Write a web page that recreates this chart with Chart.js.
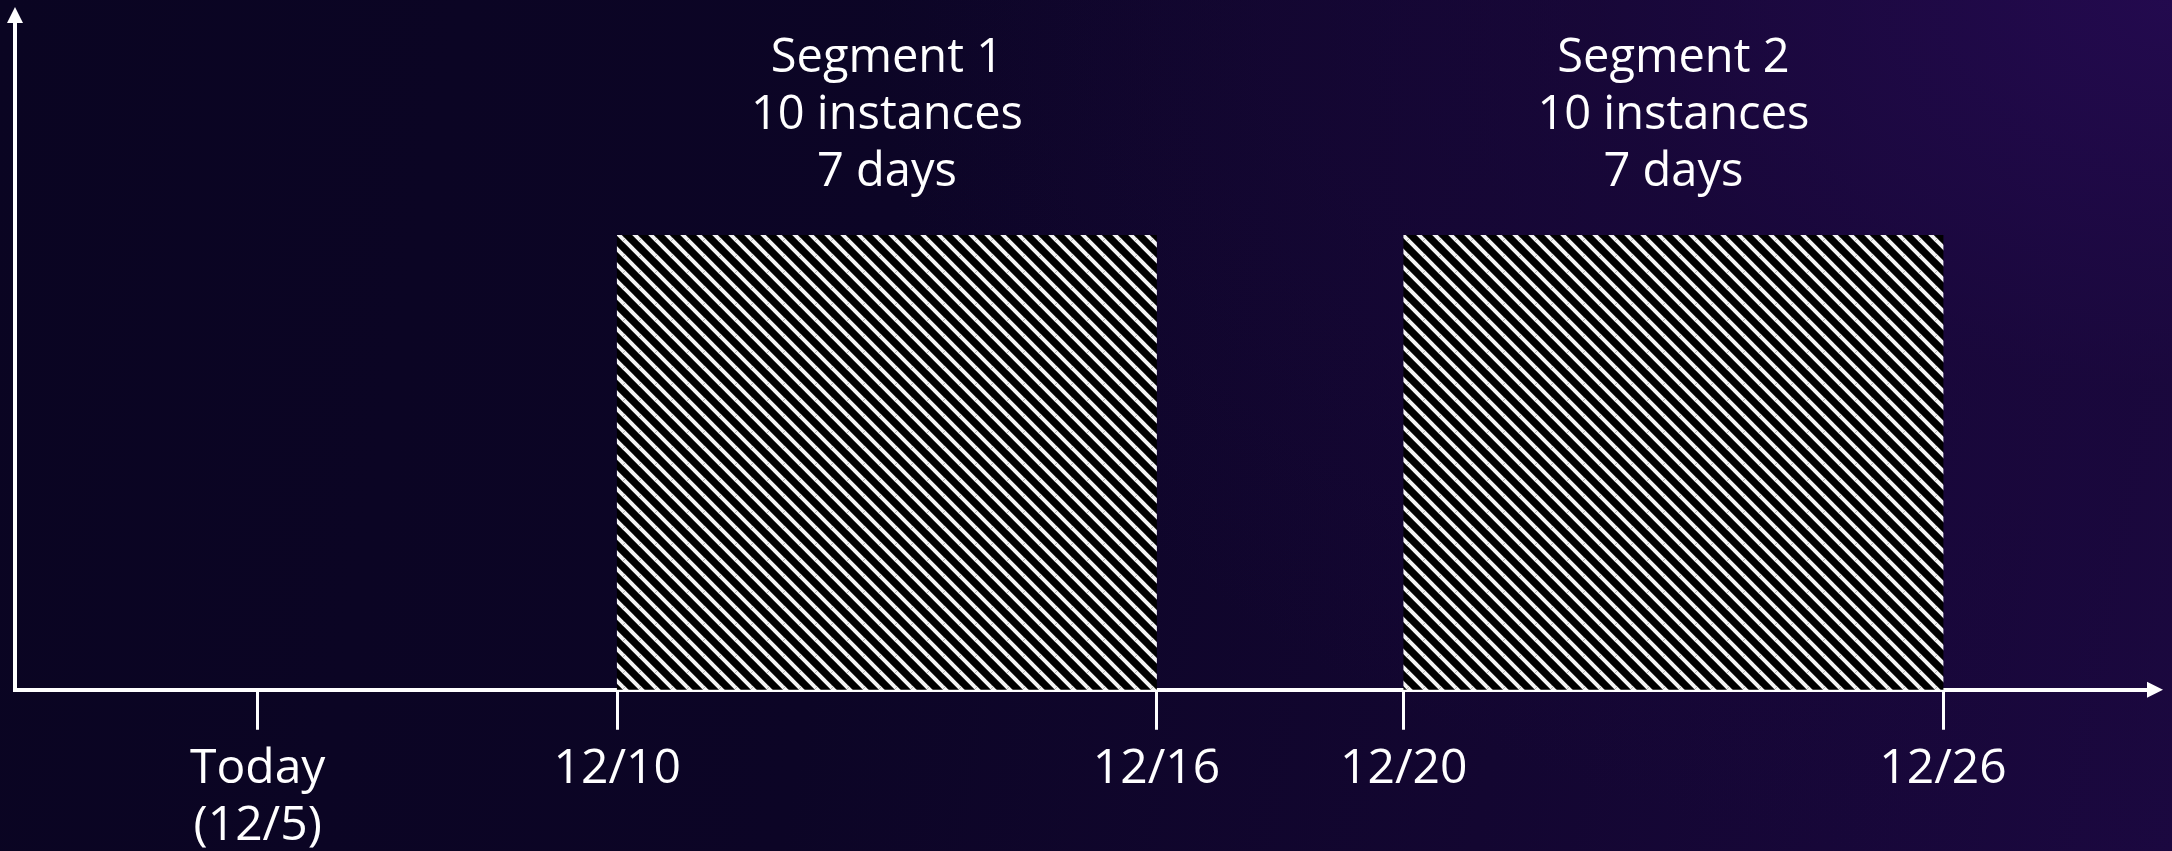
<!DOCTYPE html>
<html>
<head>
<meta charset="utf-8">
<script src="https://cdn.jsdelivr.net/npm/chart.js@4.4.3/dist/chart.umd.min.js"></script>
<style>
  html,body{margin:0;padding:0;}
  body{
    width:2172px;height:851px;overflow:hidden;
    background:
      radial-gradient(ellipse 75% 130% at 100% 0%, rgba(36,10,80,0.9) 0%, rgba(26,8,60,0.65) 35%, rgba(11,6,36,0) 80%),
      linear-gradient(100deg, #0a0522 0%, #0c0526 40%, #130631 70%, #1b0840 100%);
  }
  #wrap{position:relative;width:2172px;height:851px;overflow:hidden;}
</style>
</head>
<body>
<div id="wrap"><canvas id="c" width="2172" height="866"></canvas></div>
<script>
// 타임라인 (스케일 단위: 도식상의 '일' 간격, 12/10 = 10)
const tickValues = [6, 10, 16, 18.75, 24.75];
const tickLabels = [['Today', '(12/5)'], '12/10', '12/16', '12/20', '12/26'];
const axisMin = 3.3;
const axisMax = 27.03;

// 예약 구간
const segStart = [10, 18.75];
const segEnd = [16, 24.75];
const segNames = ['Segment 1', 'Segment 2'];
const segInstances = [10, 10];
const segDays = [7, 7];

const WHITE = '#ffffff';
const FONT = '"Open Sans", "Noto Sans", sans-serif';

// 빗금 패턴
function hatch(){
  const s = 16;
  const c = document.createElement('canvas');
  c.width = s; c.height = s;
  const g = c.getContext('2d');
  g.fillStyle = '#000';
  g.fillRect(0, 0, s, s);
  g.strokeStyle = '#f4f4f4';
  g.lineWidth = 4;
  [[0,0,s,s],[s,0,2*s,s],[-s,0,0,s],[0,s,s,2*s],[0,-s,s,0]].forEach(([a,b,c2,d])=>{
    g.beginPath(); g.moveTo(a,b); g.lineTo(c2,d); g.stroke();
  });
  return document.getElementById('c').getContext('2d').createPattern(c, 'repeat');
}
const pat = hatch();

// 축 화살표 + 구간 라벨
const decor = {
  id: 'decor',
  afterDraw(chart){
    const {ctx, chartArea:a} = chart;
    ctx.save();
    ctx.strokeStyle = WHITE; ctx.fillStyle = WHITE;
    // y축
    ctx.lineWidth = 4;
    ctx.beginPath(); ctx.moveTo(a.left, a.bottom + 2); ctx.lineTo(a.left, 22); ctx.stroke();
    ctx.beginPath(); ctx.moveTo(a.left, 7); ctx.lineTo(a.left - 8, 23); ctx.lineTo(a.left + 8, 23); ctx.closePath(); ctx.fill();
    // x축 화살표
    ctx.beginPath(); ctx.moveTo(a.right + 15, a.bottom); ctx.lineTo(a.right - 1, a.bottom - 8); ctx.lineTo(a.right - 1, a.bottom + 8); ctx.closePath(); ctx.fill();
    // 구간 라벨
    ctx.font = '47px ' + FONT;
    ctx.textAlign = 'center';
    ctx.textBaseline = 'middle';
    chart.getDatasetMeta(0).data.forEach((bar, i)=>{
      const top = bar.y - bar.height / 2;
      const cx = (bar.x + bar.base) / 2;
      const lines = [segNames[i], segInstances[i] + ' instances', segDays[i] + ' days'];
      lines.forEach((t, k)=>{
        ctx.fillText(t, cx, top - 62 - (lines.length - 1 - k) * 57);
      });
    });
    ctx.restore();
  }
};

new Chart(document.getElementById('c'), {
  type: 'bar',
  data: {
    labels: ['seg'],
    datasets: [{
      data: segStart.map((s, i)=>({ y: 'seg', x: [s, segEnd[i]] })),
      backgroundColor: pat,
      borderWidth: 0,
      barPercentage: 1,
      categoryPercentage: 1,
      grouped: false
    }]
  },
  options: {
    indexAxis: 'y',
    responsive: false,
    animation: false,
    layout: { padding: { top: 235, left: 15, right: 24, bottom: 0 } },
    plugins: { legend: { display: false }, tooltip: { enabled: false } },
    scales: {
      y: { type: 'category', labels: ['seg'], display: false, offset: true },
      x: {
        type: 'linear',
        min: axisMin,
        max: axisMax,
        afterBuildTicks: sc => { sc.ticks = tickValues.map(v => ({ value: v })); },
        border: { display: true, color: WHITE, width: 4 },
        grid: { drawOnChartArea: false, drawTicks: true, tickLength: 40, tickWidth: 3, tickColor: WHITE, color: WHITE },
        ticks: {
          autoSkip: false,
          maxRotation: 0,
          padding: 11,
          color: WHITE,
          font: { family: FONT, size: 48, lineHeight: 1.19 },
          callback: (v, i) => tickLabels[i]
        }
      }
    }
  },
  plugins: [decor]
});
</script>
</body>
</html>
